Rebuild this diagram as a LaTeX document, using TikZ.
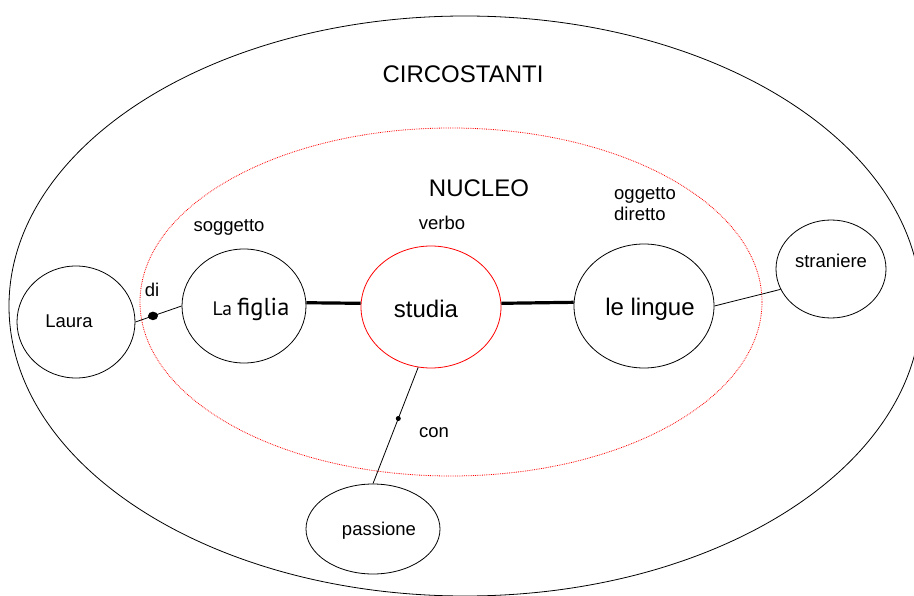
\documentclass[tikz,border=0pt]{standalone}
\usepackage{fontspec}
\setmainfont{Liberation Sans}
\newfontfamily\figfont{PT Sans}
\usetikzlibrary{shapes.geometric}
\tikzset{
  ell/.style={draw=black, line width=0.8pt, ellipse, inner sep=0pt},
  redell/.style={draw=red, line width=0.8pt, ellipse, inner sep=0pt},
  big/.style={inner sep=0pt, font=\fontsize{24}{28}\selectfont},
  small/.style={inner sep=0pt, font=\fontsize{18.5}{21}\selectfont},
  link/.style={line width=0.8pt},
  thick link/.style={line width=3.2pt},
  dotmark/.style={ellipse, fill=black, inner sep=0pt}
}
\begin{document}
\begin{tikzpicture}[x=1pt, y=-1pt]
\useasboundingbox (0,0) rectangle (914,596);
\fill[white] (0,0) rectangle (914,596);
% outer ellipse (circostanti)
\node[ell, minimum width=912pt, minimum height=580pt] (circ) at (465,306) {};
% red dotted ellipse (nucleo)
\node[draw=red, densely dotted, line width=0.8pt, ellipse, inner sep=0pt,
      minimum width=622pt, minimum height=348pt] (nuc) at (451,302) {};
% nodes
\node[ell, minimum width=118pt, minimum height=112pt] (laura) at (76,322) {};
\node[ell, minimum width=124pt, minimum height=114pt] (figlia) at (244,306) {};
\node[redell, minimum width=140pt, minimum height=122pt] (studia) at (431,307) {};
\node[ell, minimum width=140pt, minimum height=124pt] (lingue) at (644,306) {};
\node[ell, minimum width=110pt, minimum height=98pt] (stran) at (831,269) {};
\node[ell, minimum width=134pt, minimum height=90pt] (pass) at (373,529) {};
% texts
\node[big] (tcirc) at (463,74) {CIRCOSTANTI};
\node[big] (tnuc) at (479,188) {NUCLEO};
\node[small] (tverbo) at (442,223) {verbo};
\node[small] (tsogg) at (229,227) {soggetto};
\node[small, anchor=west, align=left] (togg) at (614,204) {oggetto\\diretto};
\node[small] (tlaura) at (69,321) {Laura};
\node[inner sep=0pt] (tfig) at (251,309) {\figfont\fontsize{19.5}{22}\selectfont La \fontsize{24.5}{28}\selectfont figlia};
\node[big] (tstud) at (426,309) {studia};
\node[big] (tling) at (650,309) {le lingue};
\node[small] (tstran) at (831,261) {straniere};
\node[small] (tpass) at (379,531) {passione};
\node[small] (tdi) at (152,290) {di};
\node[small] (tcon) at (434,433) {con};
% connectors
\draw[thick link] (figlia.3) -- (studia.177);
\draw[thick link] (studia.3) -- (lingue.177);
\draw[link] (laura.east) -- coordinate[pos=0.38] (dotdi) (figlia.west);
\draw[link] (lingue.east) -- (stran.202);
\draw[link] (studia.-102) -- coordinate[pos=0.44] (dotcon) (pass.north);
\node[dotmark, minimum width=10pt, minimum height=8.5pt] (ddi) at (dotdi) {};
\node[dotmark, minimum size=5pt] (dcon) at (dotcon) {};
\end{tikzpicture}
\end{document}
